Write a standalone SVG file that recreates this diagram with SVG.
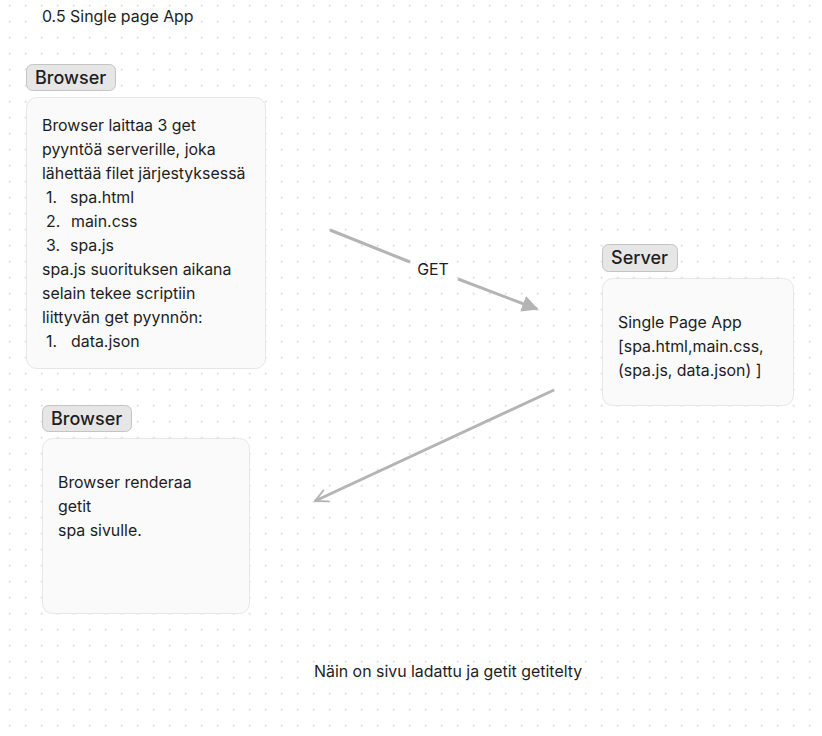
<svg xmlns="http://www.w3.org/2000/svg" width="822" height="736" viewBox="0 0 822 736">
<defs>
<pattern id="dots" x="8.7" y="4.7" width="16" height="16" patternUnits="userSpaceOnUse">
<rect x="0" y="0" width="2" height="2" fill="#e2e2e2"/>
</pattern>
<marker id="tri" viewBox="0 0 10 10" refX="9" refY="5" markerWidth="5.5" markerHeight="5.5" markerUnits="strokeWidth" orient="auto">
<path d="M0,0 L10,5 L0,10 z" fill="#b4b4b4"/>
</marker>
<marker id="vee" viewBox="0 0 10 10" refX="9" refY="5" markerWidth="5" markerHeight="5" markerUnits="strokeWidth" orient="auto">
<path d="M1,1 L9,5 L1,9" fill="none" stroke="#b4b4b4" stroke-width="1.3" stroke-linecap="round"/>
</marker>
</defs>
<style>
text { font-family: Inter, "Liberation Sans", sans-serif; fill: #1e1e1e; }
.t { font-size: 15.9px; }
.lab { font-size: 18px; font-weight: 500; }
.tag { fill: #e6e6e6; stroke: #c4c4c4; stroke-width: 1; }
.box { fill: #fafafa; stroke: #e6e6e6; stroke-width: 1; }
.conn { stroke: #b4b4b4; stroke-width: 3; fill: none; }
</style>
<rect width="822" height="736" fill="#ffffff"/>
<rect width="822" height="736" fill="url(#dots)"/>
<text class="t" x="42" y="22">0.5 Single page App</text>

<g id="browser1">
<rect class="tag" x="26.5" y="64.5" width="89" height="26" rx="6"/>
<text class="lab" x="35" y="83.5">Browser</text>
<rect class="box" x="26.5" y="97.5" width="239" height="271" rx="10"/>
<text class="t" x="42" y="131">Browser laittaa 3 get</text>
<text class="t" x="42" y="155">pyyntöä serverille, joka</text>
<text class="t" x="42" y="179">lähettää filet järjestyksessä</text>
<text class="t" x="46" y="203">1.</text><text class="t" x="70" y="203">spa.html</text>
<text class="t" x="46" y="227">2.</text><text class="t" x="71" y="227">main.css</text>
<text class="t" x="46" y="251">3.</text><text class="t" x="70" y="251">spa.js</text>
<text class="t" x="42" y="275">spa.js suorituksen aikana</text>
<text class="t" x="42" y="299">selain tekee scriptiin</text>
<text class="t" x="42" y="323">liittyvän get pyynnön:</text>
<text class="t" x="46" y="347">1.</text><text class="t" x="71" y="347">data.json</text>
</g>

<g id="server">
<rect class="tag" x="602.5" y="244.5" width="75" height="27" rx="6"/>
<text class="lab" x="611" y="264">Server</text>
<rect class="box" x="602.5" y="278.5" width="191" height="127" rx="10"/>
<text class="t" x="618" y="328">Single Page App</text>
<text class="t" x="618" y="352">[spa.html,main.css,</text>
<text class="t" x="618" y="376">(spa.js, data.json) ]</text>
</g>

<g id="browser2">
<rect class="tag" x="42.5" y="405.5" width="89" height="26" rx="6"/>
<text class="lab" x="51" y="424.5">Browser</text>
<rect class="box" x="42.5" y="438.5" width="207" height="175" rx="10"/>
<text class="t" x="58" y="488">Browser renderaa</text>
<text class="t" x="58" y="512">getit</text>
<text class="t" x="58" y="536">spa sivulle.</text>
</g>

<g id="connectors">
<line class="conn" x1="330" y1="230" x2="410" y2="262"/>
<line class="conn" x1="458" y1="279" x2="537" y2="309" marker-end="url(#tri)"/>
<text class="t" x="433" y="275" text-anchor="middle">GET</text>
<line class="conn" x1="554" y1="390" x2="315" y2="501" marker-end="url(#vee)"/>
</g>

<text class="t" x="314" y="677">Näin on sivu ladattu ja getit getitelty</text>
</svg>
